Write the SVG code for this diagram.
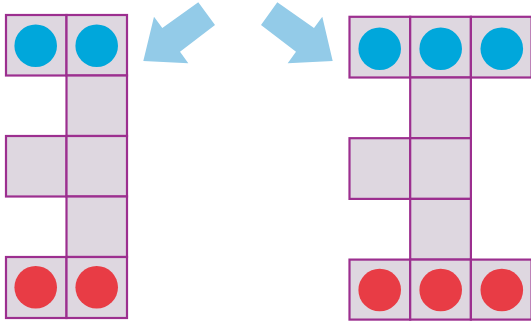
<svg xmlns="http://www.w3.org/2000/svg" width="531" height="321" viewBox="0 0 531 321">
  <style>
    .cell { fill: #ded7e0; stroke: #9c2f8f; stroke-width: 2.2; }
    .blue { fill: #00a7db; }
    .red { fill: #e83c45; }
    .arrow { fill: #93cbe8; }
  </style>

  <!-- Left figure: 2-wide frame -->
  <g id="left-shape">
    <rect class="cell" x="6" y="15" width="60.5" height="60.5"/>
    <rect class="cell" x="66.5" y="15" width="60.5" height="60.5"/>
    <rect class="cell" x="66.5" y="75.5" width="60.5" height="60.5"/>
    <rect class="cell" x="6" y="136" width="60.5" height="60.5"/>
    <rect class="cell" x="66.5" y="136" width="60.5" height="60.5"/>
    <rect class="cell" x="66.5" y="196.5" width="60.5" height="60.5"/>
    <rect class="cell" x="6" y="257" width="60.5" height="61"/>
    <rect class="cell" x="66.5" y="257" width="60.5" height="61"/>
    <circle class="blue" cx="35.7" cy="45.7" r="21.3"/>
    <circle class="blue" cx="96.7" cy="45.7" r="21.3"/>
    <circle class="red" cx="35.7" cy="287.3" r="21.3"/>
    <circle class="red" cx="96.7" cy="287.3" r="21.3"/>
  </g>

  <!-- Right figure: 3-wide frame -->
  <g id="right-shape">
    <rect class="cell" x="349.5" y="16.8" width="60.7" height="60.7"/>
    <rect class="cell" x="410.2" y="16.8" width="60.7" height="60.7"/>
    <rect class="cell" x="470.9" y="16.8" width="60.7" height="60.7"/>
    <rect class="cell" x="410.2" y="77.5" width="60.7" height="60.7"/>
    <rect class="cell" x="349.5" y="138.2" width="60.7" height="60.7"/>
    <rect class="cell" x="410.2" y="138.2" width="60.7" height="60.7"/>
    <rect class="cell" x="410.2" y="198.9" width="60.7" height="60.7"/>
    <rect class="cell" x="349.5" y="259.6" width="60.7" height="60"/>
    <rect class="cell" x="410.2" y="259.6" width="60.7" height="60"/>
    <rect class="cell" x="470.9" y="259.6" width="60.7" height="60"/>
    <circle class="blue" cx="379.7" cy="48.7" r="21.3"/>
    <circle class="blue" cx="440.7" cy="48.7" r="21.3"/>
    <circle class="blue" cx="501.8" cy="48.7" r="21.3"/>
    <circle class="red" cx="379.7" cy="290" r="21.3"/>
    <circle class="red" cx="440.7" cy="290" r="21.3"/>
    <circle class="red" cx="501.8" cy="290" r="21.3"/>
  </g>

  <!-- Block arrows pointing to each figure -->
  <g id="connectors">
    <polygon class="arrow" points="143.3,61 154,16.7 162.3,28 198.3,2.3 215,25 180,51.7 188.3,63.3"/>
    <polygon class="arrow" points="332.7,61 322.3,16.7 314,28 277.3,2.3 261,25 296,51.7 287.7,63.3"/>
  </g>
</svg>
